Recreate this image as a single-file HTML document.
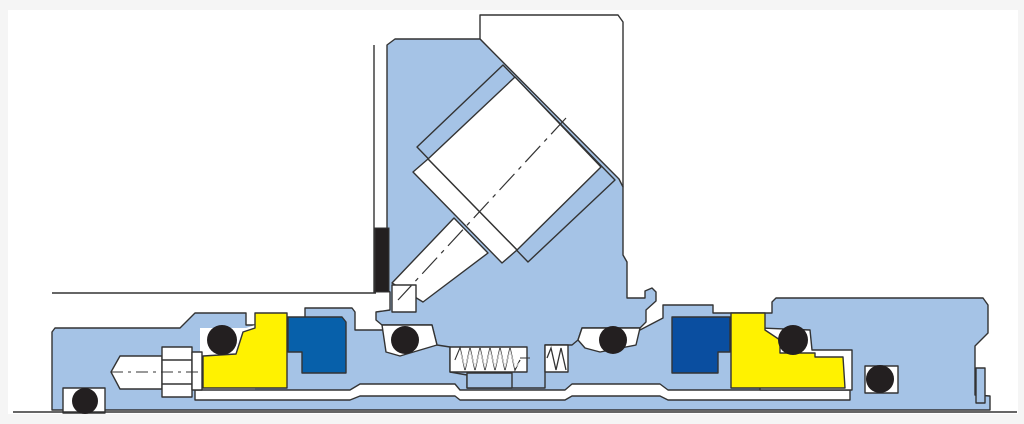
<!DOCTYPE html>
<html><head><meta charset="utf-8"><style>
html,body{margin:0;padding:0;background:#f5f5f5;}
svg{display:block;}
</style></head><body>
<svg width="1024" height="424" viewBox="0 0 1024 424" xmlns="http://www.w3.org/2000/svg">
<rect x="0" y="0" width="1024" height="424" fill="#f5f5f5"/>
<rect x="8" y="10" width="1010" height="404" fill="#ffffff"/>
<g stroke="#333" stroke-width="1.4" stroke-linejoin="round" fill="#a5c3e6">
<!-- left thin housing lines -->
<line x1="374" y1="45" x2="374" y2="293" fill="none"/>
<line x1="52" y1="293" x2="376" y2="293" fill="none"/>
<!-- white box above -->
<polygon points="480,15 618,15 623,22 623,187 480,39" fill="#fff"/>
<!-- lower base body -->
<polygon points="52,332 55,328 180,328 195,313 246,313 246,325 305,325 305,308 352,308 355,312 355,330 640,330 663,318 663,305 713,305 713,313 772,313 772,302 776,298 983,298 988,305 988,333 975,346 975,395 990,396 990,410 52,410"/>
<!-- gland -->
<polygon points="387,45 395,39 480,39 619,179 623,187 623,255 627,262 627,298 645,298 645,291 652,288 656,292 656,301 646,310 646,322 640,328 582,328 578,340 572,345 545,345 545,388 467,388 467,375 450,372 450,347 437,345 432,325 382,325 376,320 376,312 390,310 390,292 387,290"/>
<!-- tilted bolt housing -->
<polygon points="417,147 503,65 615,180 528,262"/>
<polygon points="428,159 515,77 601,167 517,250" fill="#fff"/>
<polygon points="413,172 428,159 517,250 502,263" fill="#fff"/>
<polygon points="454,218 488,253 423,302 392,283" fill="#fff"/>
<rect x="392" y="285" width="24" height="27" fill="#fff"/>
</g>
<line x1="566" y1="118" x2="398" y2="300" stroke="#333" stroke-width="1.2" stroke-dasharray="22,6,4,6"/>
<!-- black strip -->
<rect x="375" y="228" width="14" height="64" fill="#231f20" stroke="#333"/>
<g stroke="#333" stroke-width="1.4" stroke-linejoin="round">
<!-- cavities -->
<polygon points="200,328 246,328 255,325 255,392 200,395" fill="#fff" stroke="none"/>
<polygon points="195,390 350,390 360,384 455,384 460,390 565,390 572,384 660,384 668,390 850,390 850,400 668,400 660,396 572,396 565,400 460,400 455,396 360,396 350,400 195,400" fill="#fff"/>
<polygon points="382,325 432,325 437,345 400,356 386,352" fill="#fff"/>
<polygon points="582,328 640,328 636,345 600,352 585,348 578,340" fill="#fff"/>
<polygon points="760,328 810,330 812,350 852,350 852,390 760,390" fill="#fff"/>
<rect x="865" y="366" width="33" height="27" fill="#fff"/>
<rect x="63" y="388" width="42" height="25" fill="#fff"/>
<rect x="450" y="347" width="77" height="25" fill="#fff"/>
<rect x="545" y="345" width="23" height="27" fill="#fff"/>
<rect x="467" y="373" width="45" height="15" fill="#a5c3e6"/>
<!-- screw -->
<polygon points="111,372 120,356 162,356 162,389 120,389" fill="#fff"/>
<rect x="162" y="347" width="30" height="50" fill="#fff"/>
<rect x="192" y="352" width="10" height="38" fill="#fff"/>
<line x1="162" y1="360" x2="192" y2="360"/>
<line x1="162" y1="384" x2="192" y2="384"/>
<!-- yellow parts -->
<polygon points="203,356 236,354 243,332 255,328 255,313 287,313 287,388 203,388" fill="#fff200"/>
<polygon points="731,313 765,313 765,330 780,340 780,353 815,353 815,357 843,357 845,388 731,388" fill="#fff200"/>
<!-- dark blue -->
<polygon points="288,317 342,317 346,322 346,373 302,373 302,352 288,352" fill="#0760aa"/>
<polygon points="672,317 730,317 730,352 718,352 718,373 672,373" fill="#0a4ea0"/>
<!-- right end bits -->
<rect x="976" y="368" width="9" height="35" fill="#a5c3e6"/>
</g>
<line x1="13" y1="412" x2="1017" y2="412" stroke="#333" stroke-width="1.6"/>
<line x1="111" y1="372" x2="202" y2="372" stroke="#333" stroke-width="1" stroke-dasharray="12,5,3,5"/>
<!-- springs -->
<polyline points="455,360 460,348 465,370 470,348 475,370 480,348 485,370 490,348 495,370 500,348 505,370 510,348 515,370 520,360" fill="none" stroke="#333" stroke-width="1.3"/>
<polyline points="455,362 460,350 465,368 470,350 475,368 480,350 485,368 490,350 495,368 500,350 505,368 510,350 515,368 520,362" fill="none" stroke="#fff" stroke-width="0.6"/>
<polyline points="547,358 551,348 556,370 561,348 566,370" fill="none" stroke="#333" stroke-width="1.3"/>
<line x1="520" y1="358" x2="530" y2="358" stroke="#333"/>
<!-- o-rings -->
<g fill="#231f20">
<circle cx="222" cy="340" r="15"/>
<circle cx="405" cy="340" r="14"/>
<circle cx="613" cy="340" r="14"/>
<circle cx="793" cy="340" r="15"/>
<circle cx="880" cy="379" r="14"/>
<circle cx="85" cy="401" r="13"/>
</g>
</svg>
</body></html>
